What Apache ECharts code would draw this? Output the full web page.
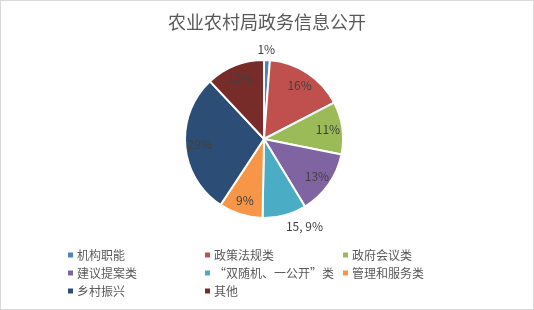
<!DOCTYPE html>
<html><head><meta charset="utf-8">
<script src="https://cdn.jsdelivr.net/npm/echarts@6/dist/echarts.min.js"></script>
<style>html,body{margin:0;padding:0;background:#fff}#c{width:532px;height:308px;border:1px solid #d9d9d9}</style>
</head><body><div id="c"></div>
<script>
const title = '农业农村局政务信息公开';
const categories = ['机构职能','政策法规类','政府会议类','建议提案类','“双随机、一公开”类','管理和服务类','乡村振兴','其他'];
const values = [2,27,18,22,15,15,48,20];
const colors = ['#4F81BD','#C0504D','#9BBB59','#8064A2','#4BACC6','#F79646','#2C4D75','#772C2A'];
const outsideLabels = ['机构职能','“双随机、一公开”类'];
const legendColumns = [
  ['机构职能','建议提案类','乡村振兴'],
  ['政策法规类','“双随机、一公开”类','其他'],
  ['政府会议类','管理和服务类']
];
const font = '"Noto Sans CJK SC","Microsoft YaHei",sans-serif';
const chart = echarts.init(document.getElementById('c'));
const center = [263,138];
const R = 79;
const legendLefts = [60,197,335];
chart.setOption({
  animation:false,
  color: colors,
  title:{text:title,left:'center',top:7,textStyle:{fontSize:18,fontWeight:'normal',color:'#595959',fontFamily:font}},
  legend: legendColumns.map((col,i)=>({
    data: col, orient:'vertical', left: legendLefts[i], top: 243,
    itemWidth:7,itemHeight:7,itemGap:6,icon:'rect',
    textStyle:{fontSize:12,color:'#595959',fontFamily:font,padding:[0,0,0,-2]}
  })),
  series:[
    {type:'pie',center:center,radius:[0,R],startAngle:90,clockwise:true,
     percentPrecision:0,avoidLabelOverlap:false,
     itemStyle:{borderColor:'#fff',borderWidth:2},
     label:{show:false},labelLine:{show:false},
     data: categories.map((n,i)=>({name:n,value:values[i]}))},
    {type:'pie',center:center,radius:[R*0.56,R],startAngle:90,clockwise:true,silent:true,
     percentPrecision:0,avoidLabelOverlap:false,
     itemStyle:{color:'rgba(0,0,0,0)',borderWidth:0},
     emphasis:{disabled:true},
     labelLine:{show:false,length:9,length2:0},
     label:{show:true,position:'inside',fontSize:12,color:'#404040',fontFamily:font,formatter:'{d}%'},
     labelLayout: function(p){
       if(p.dataIndex===0) return {align:'center',dx:-6,dy:-2};
       if(p.dataIndex===4) return {dx:-6,dy:2};
       return {};
     },
     data: categories.map((n,i)=>{
       const d={name:n,value:values[i]};
       if(outsideLabels.includes(n)){
         d.label={position:'outside',formatter: n==='机构职能'?'{d}%':'{c}, {d}%'};
       }
       return d;
     })}
  ]
});
</script></body></html>
